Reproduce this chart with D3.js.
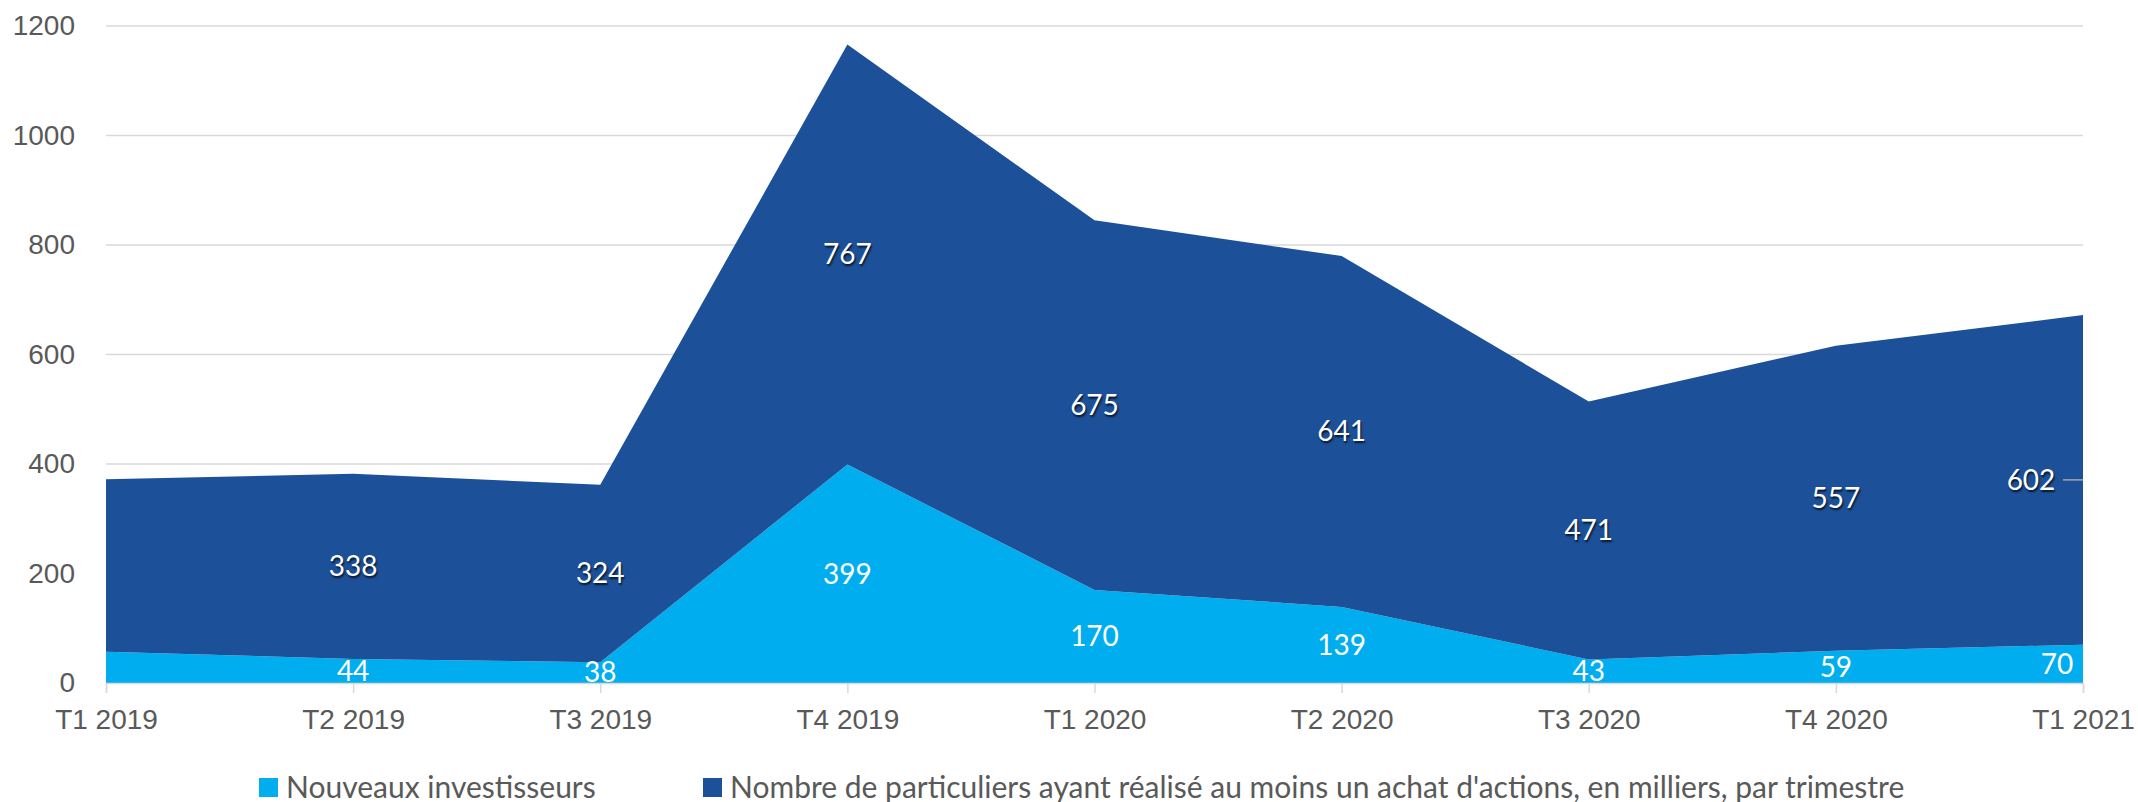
<!DOCTYPE html>
<html>
<head>
<meta charset="utf-8">
<script src="https://cdn.jsdelivr.net/npm/d3@7"></script>
<style>
  body { margin: 0; background: #fff; }
  svg { font-family: Lato, "Open Sans", sans-serif; }
  .tick text { fill: #595959; font-size: 28px; }
</style>
</head>
<body>
<script>
// quarters + the two stacked series (thousands)
var quarters = ["T1 2019","T2 2019","T3 2019","T4 2019","T1 2020","T2 2020","T3 2020","T4 2020","T1 2021"];
var nouveaux = [57, 44, 38, 399, 170, 139, 43, 59, 70];
var particuliers = [315, 338, 324, 767, 675, 641, 471, 557, 602];
var yTicks = [0, 200, 400, 600, 800, 1000, 1200];
var seriesNames = ["Nouveaux investisseurs", "Nombre de particuliers ayant réalisé au moins un achat d'actions, en milliers, par trimestre"];
var colors = ["#00aeef", "#1c519a"];
// first quarter has no labels in the original
var showLabel = [false, true, true, true, true, true, true, true, true];

function chart(){
  var W = 2138, H = 802;
  var margin = {top: 26, right: 55, bottom: 119, left: 106},
      width = W - margin.left - margin.right,
      height = H - margin.top - margin.bottom;

  var svg = d3.select("body").append("svg")
      .attr("width", W)
      .attr("height", H)
    .append("g")
      .attr("transform", "translate(" + margin.left + "," + margin.top + ")");

  var x = d3.scalePoint().domain(quarters).range([0, width]);
  var y = d3.scaleLinear().domain([0, 1200]).range([height, 0]);

  var rows = quarters.map(function(q, i) {
    return {q: q, a: nouveaux[i], b: particuliers[i], i: i};
  });
  var stack = d3.stack().keys(["a", "b"]);
  var layers = stack(rows);

  // gridlines
  svg.append("g")
      .selectAll("line")
      .data(yTicks.slice(1))
      .enter().append("line")
      .attr("x1", 0).attr("x2", width)
      .attr("y1", function(d) { return y(d); })
      .attr("y2", function(d) { return y(d); })
      .attr("stroke", "#d9d9d9")
      .attr("stroke-width", 1.5);

  var area = d3.area()
      .x(function(d) { return x(d.data.q); })
      .y0(function(d) { return y(d[0]); })
      .y1(function(d) { return y(d[1]); });

  svg.selectAll(".layer")
      .data(layers)
      .enter().append("path")
      .attr("class", "layer")
      .attr("d", area)
      .attr("fill", function(d, i) { return colors[i]; });

  // x axis
  var xAxis = d3.axisBottom(x).tickSize(10).tickPadding(16);
  var gx = svg.append("g")
      .attr("transform", "translate(0," + height + ")")
      .call(xAxis);
  gx.select(".domain").attr("stroke", "#d9d9d9").attr("stroke-width", 1.5);
  gx.selectAll(".tick line").attr("stroke", "#d9d9d9").attr("stroke-width", 1.5);

  // y axis (labels only)
  var yAxis = d3.axisLeft(y).tickValues(yTicks).tickFormat(d3.format("d")).tickSize(0).tickPadding(31);
  var gy = svg.append("g").call(yAxis);
  gy.select(".domain").remove();

  // data labels
  var lab = svg.append("g").attr("font-size", 28).attr("text-anchor", "middle");
  layers.forEach(function(layer, li) {
    lab.selectAll(".lbl" + li)
        .data(layer.filter(function(d) { return showLabel[d.data.i]; }))
        .enter().append("text")
        .attr("class", "lbl" + li)
        .attr("x", function(d) {
          var last = d.data.i === quarters.length - 1;
          return x(d.data.q) - (last ? (li === 1 ? 52 : 26) : 0);
        })
        .attr("y", function(d) { return y((d[0] + d[1]) / 2); })
        .attr("dy", "0.35em")
        .attr("fill", "#fff")
        .style("text-shadow", li === 1 ? "1px 2px 2px rgba(0,0,0,0.75)" : null)
        .text(function(d) { return d[1] - d[0]; });
  });

  // leader line for the last dark label
  var lastTop = layers[1][quarters.length - 1];
  svg.append("line")
      .attr("x1", x(quarters[quarters.length - 1]) - 20)
      .attr("x2", x(quarters[quarters.length - 1]))
      .attr("y1", y((lastTop[0] + lastTop[1]) / 2))
      .attr("y2", y((lastTop[0] + lastTop[1]) / 2))
      .attr("stroke", "#a6a6a6")
      .attr("stroke-width", 1.5);

  // legend
  var legX = [259 - margin.left, 703 - margin.left];
  var leg = svg.append("g").attr("transform", "translate(0," + (787 - margin.top) + ")");
  seriesNames.forEach(function(name, i) {
    leg.append("rect")
        .attr("x", legX[i]).attr("y", -9)
        .attr("width", 19).attr("height", 19)
        .attr("fill", colors[i]);
    leg.append("text")
        .attr("x", legX[i] + 27).attr("y", 0)
        .attr("dy", "0.35em")
        .attr("font-size", 30)
        .attr("fill", "#595959")
        .text(name);
  });
}

window.onload = chart;
</script>
</body>
</html>
